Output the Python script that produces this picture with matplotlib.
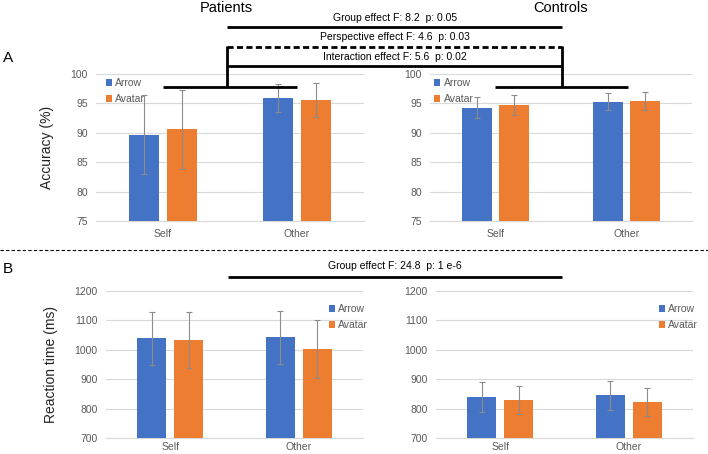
import matplotlib
matplotlib.use("Agg")
import matplotlib.pyplot as plt
import numpy as np

plt.rcParams['font.family'] = ['Liberation Sans', 'DejaVu Sans']

categories = ["Self", "Other"]
series = ["Arrow", "Avatar"]
colors = ["#4472C4", "#ED7D31"]

# Accuracy (%)
acc_patients = {"Arrow": [89.7, 95.9], "Avatar": [90.6, 95.6]}
acc_patients_err = {"Arrow": [6.7, 2.4], "Avatar": [6.7, 2.9]}
acc_controls = {"Arrow": [94.3, 95.3], "Avatar": [94.8, 95.4]}
acc_controls_err = {"Arrow": [1.8, 1.5], "Avatar": [1.7, 1.5]}

# Reaction time (ms)
rt_patients = {"Arrow": [1039, 1043], "Avatar": [1033, 1002]}
rt_patients_err = {"Arrow": [91, 90], "Avatar": [95, 98]}
rt_controls = {"Arrow": [839, 845], "Avatar": [828, 823]}
rt_controls_err = {"Arrow": [50, 50], "Avatar": [48, 48]}

acc_ticks = [75, 80, 85, 90, 95, 100]
rt_ticks = [700, 800, 900, 1000, 1100, 1200]

W, H = 708, 454
fig = plt.figure(figsize=(W / 100, H / 100), dpi=100)


def px_axes(x0, x1, ytop, ybot):
    return fig.add_axes([x0 / W, 1 - ybot / H, (x1 - x0) / W, (ybot - ytop) / H])


def draw(ax, data, err, ticks, ylabel=None, legend_loc=None, xpad=6,
         bw=0.225, off=0.143):
    x = np.arange(len(categories))
    for i, s in enumerate(series):
        ax.bar(x + (i - 0.5) * 2 * off, data[s], bw, color=colors[i], label=s,
               yerr=err[s], error_kw=dict(ecolor="#8c8c8c", elinewidth=0.8,
                                          capsize=2, capthick=0.8), zorder=3)
    ax.set_xlim(-0.5, 1.5)
    ax.set_ylim(ticks[0], ticks[-1])
    ax.set_yticks(ticks)
    ax.set_xticks(x)
    ax.set_xticklabels(categories)
    ax.grid(axis="y", color="#d9d9d9", linewidth=0.8, zorder=0)
    for sp in ["top", "right", "left"]:
        ax.spines[sp].set_visible(False)
    ax.spines["bottom"].set_color("#d9d9d9")
    ax.tick_params(axis="both", length=0, labelsize=7.5, colors="#595959", pad=6)
    ax.tick_params(axis="x", pad=xpad)
    if ylabel:
        ax.set_ylabel(ylabel, fontsize=10, color="#222222", labelpad=12)
    if legend_loc is not None:
        ax.legend(loc="upper left", bbox_to_anchor=legend_loc, frameon=False,
                  fontsize=7.5, handlelength=0.6, handleheight=0.6,
                  handletextpad=0.3, labelspacing=0.6, borderaxespad=0,
                  labelcolor="#595959")


axA1 = px_axes(96, 364, 74, 221)
draw(axA1, acc_patients, acc_patients_err, acc_ticks, "Accuracy (%)", (0.02, 1.0))
axA2 = px_axes(430, 692, 74, 221)
draw(axA2, acc_controls, acc_controls_err, acc_ticks, None, (0.0, 1.0))
axB1 = px_axes(106, 363, 291, 438)
draw(axB1, rt_patients, rt_patients_err, rt_ticks, "Reaction time (ms)", (0.85, 0.94), xpad=3)
axB2 = px_axes(436, 693, 291, 438)
draw(axB2, rt_controls, rt_controls_err, rt_ticks, None, (0.85, 0.94), xpad=3)

# Overlay for annotations (pixel space)
ov = fig.add_axes([0, 0, 1, 1], zorder=10)
ov.set_xlim(0, W)
ov.set_ylim(H, 0)
ov.axis("off")
ov.patch.set_alpha(0)

lw = 2.0
ov.text(226, 8, "Patients", ha="center", va="center", fontsize=10.5)
ov.text(561, 8, "Controls", ha="center", va="center", fontsize=10.5)
ov.text(8, 58, "A", ha="center", va="center", fontsize=11)
ov.text(8, 269, "B", ha="center", va="center", fontsize=11)

ov.text(395, 18, "Group effect F: 8.2  p: 0.05", ha="center", va="center", fontsize=7.5)
ov.plot([227, 562], [27, 27], color="black", lw=lw, solid_capstyle="butt")
ov.text(395, 37, "Perspective effect F: 4.6  p: 0.03", ha="center", va="center", fontsize=7.5)
ov.plot([227, 562], [47, 47], color="black", lw=lw, ls=(0, (2.2, 1.2)))
ov.text(395, 56.5, "Interaction effect F: 5.6  p: 0.02", ha="center", va="center", fontsize=7.5)
ov.plot([227, 562], [66, 66], color="black", lw=lw, solid_capstyle="butt")
ov.plot([227, 227], [46, 87], color="black", lw=lw, solid_capstyle="butt")
ov.plot([562, 562], [46, 87], color="black", lw=lw, solid_capstyle="butt")
ov.plot([163, 297], [87, 87], color="black", lw=lw, solid_capstyle="butt")
ov.plot([495, 628], [87, 87], color="black", lw=lw, solid_capstyle="butt")

ov.plot([0, W], [250, 250], color="black", lw=0.8, ls=(0, (3, 2)))
ov.text(395, 266, "Group effect F: 24.8  p: 1 e-6", ha="center", va="center", fontsize=7.5)
ov.plot([228, 562], [277, 277], color="black", lw=lw, solid_capstyle="butt")

fig.savefig("out.png", dpi=100)
